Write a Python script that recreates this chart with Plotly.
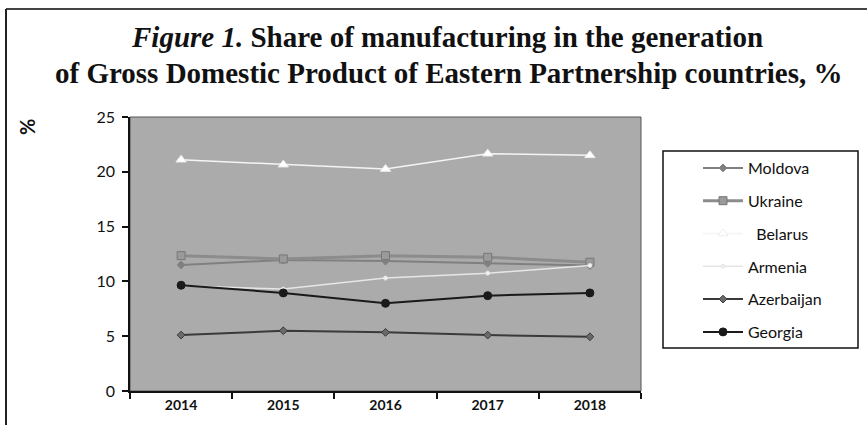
import plotly.graph_objects as go

years = ["2014", "2015", "2016", "2017", "2018"]
moldova = [11.5, 11.95, 11.85, 11.65, 11.45]
ukraine = [12.35, 12.05, 12.35, 12.2, 11.75]
belarus = [21.1, 20.65, 20.25, 21.65, 21.5]
armenia = [9.6, 9.3, 10.3, 10.75, 11.45]
azerbaijan = [5.1, 5.5, 5.35, 5.1, 4.95]
georgia = [9.65, 8.95, 8.0, 8.7, 8.95]

title_line1 = "<i>Figure 1.</i> Share of manufacturing in the generation"
title_line2 = "of Gross Domestic Product of Eastern Partnership countries, %"

W, H = 867, 425
L, R, T, B = 130, 226, 117, 34
PW, PH = W - L - R, H - T - B

def px(x):
    return (x - L) / PW

def py(y):
    return (H - B - y) / PH

series = [
    ("Moldova", moldova, "#808080", 2, "diamond", 6, "#808080", "#808080"),
    ("Ukraine", ukraine, "#8c8c8c", 3, "square", 8, "#9a9a9a", "#777777"),
    ("Belarus", belarus, "#f4f4f4", 1.5, "triangle-up", 9, "#ffffff", "#eeeeee"),
    ("Armenia", armenia, "#e6e6e6", 1.5, "circle", 4, "#f0f0f0", "#e6e6e6"),
    ("Azerbaijan", azerbaijan, "#3a3a3a", 2, "diamond", 6, "#6a6a6a", "#3a3a3a"),
    ("Georgia", georgia, "#1a1a1a", 2, "circle", 8, "#1a1a1a", "#1a1a1a"),
]

fig = go.Figure()
for i, (name, vals, lc, lw, sym, ms, mc, mlc) in enumerate(series):
    fig.add_trace(go.Scatter(
        x=years, y=vals, name=("\u00a0\u00a0" + name if name == "Belarus" else name),
        mode="lines+markers",
        line=dict(color=lc, width=lw),
        marker=dict(symbol=sym, size=ms, color=mc, line=dict(color=mlc, width=1)),
        legendgroup="g%d" % i,
    ))

sans = "Lato, 'Open Sans', sans-serif"
serif = "Liberation Serif, 'DejaVu Serif', serif"

fig.update_layout(
    width=W, height=H,
    margin=dict(l=L, r=R, t=T, b=B, autoexpand=False),
    paper_bgcolor="white",
    plot_bgcolor="#ababab",
    xaxis=dict(
        type="category", tickson="boundaries", ticks="outside", ticklen=6,
        tickcolor="#111111", tickwidth=1.5,
        showline=True, linecolor="#111111", linewidth=1.5,
        showgrid=False, zeroline=False,
        tickfont=dict(family=sans, size=14, color="#111111", weight="bold"),
        range=[-0.5, 4.5],
    ),
    yaxis=dict(
        range=[0, 25], dtick=5, ticks="outside", ticklen=6,
        tickcolor="#111111", tickwidth=1.5,
        showline=True, linecolor="#111111", linewidth=1.5,
        showgrid=False, zeroline=False,
        tickfont=dict(family=sans, size=16, color="#111111"),
        ticklabelstandoff=4,
    ),
    legend=dict(
        x=px(698), y=py(151), xanchor="left", yanchor="top",
        traceorder="grouped", tracegroupgap=9, itemwidth=40,
        font=dict(family=sans, size=16, color="#111111"),
        bgcolor="rgba(0,0,0,0)", borderwidth=0,
    ),
    showlegend=True,
    shapes=[
        dict(type="rect", xref="paper", yref="paper", x0=0, y0=0, x1=1, y1=1,
             line=dict(color="#555555", width=1), layer="below"),
        dict(type="rect", xref="paper", yref="paper",
             x0=px(663), x1=px(858), y0=py(348), y1=py(151),
             line=dict(color="#111111", width=1.5)),
        dict(type="line", xref="paper", yref="paper",
             x0=px(6), x1=px(W), y0=py(9), y1=py(9),
             line=dict(color="#444444", width=2)),
        dict(type="line", xref="paper", yref="paper",
             x0=px(6), x1=px(6), y0=py(9), y1=py(H),
             line=dict(color="#222222", width=2)),
    ],
    annotations=[
        dict(text="<b>" + title_line1 + "</b>", xref="paper", yref="paper",
             x=px(447), y=py(37), xanchor="center", yanchor="middle", showarrow=False,
             font=dict(family=serif, size=29, color="#111111")),
        dict(text="<b>" + title_line2 + "</b>", xref="paper", yref="paper",
             x=px(448), y=py(73), xanchor="center", yanchor="middle", showarrow=False,
             font=dict(family=serif, size=29, color="#111111")),
        dict(text="<b>%</b>", xref="paper", yref="paper", x=px(27), y=py(127),
             xanchor="center", yanchor="middle",
             showarrow=False, textangle=-90,
             font=dict(family=sans, size=20, color="#111111")),
    ],
)

fig.write_html("out.html", config={"displayModeBar": False},
               post_script="document.body.style.margin='0';")
